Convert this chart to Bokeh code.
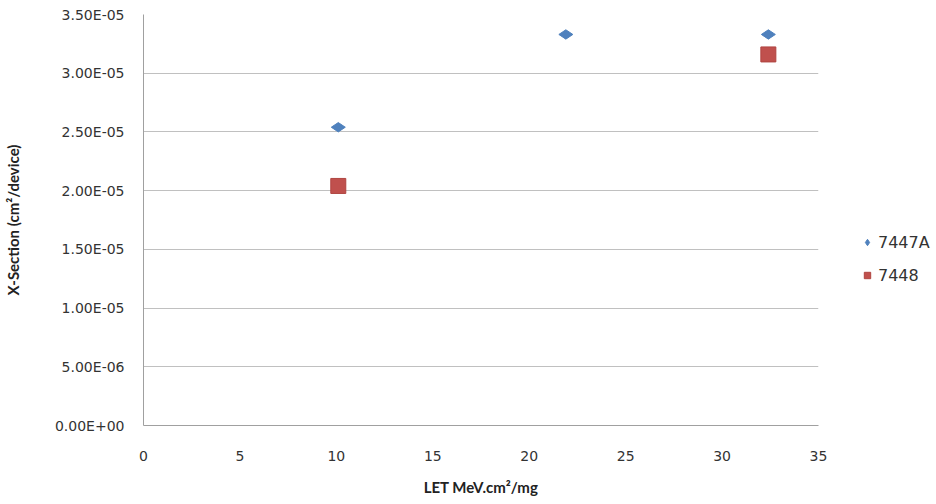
from bokeh.plotting import figure
from bokeh.models import Range1d, CustomJSTickFormatter, FixedTicker, Legend, LegendItem, ColumnDataSource
from bokeh.embed import file_html
from bokeh.resources import INLINE
import numpy as np

# Data
let_a = [10.1, 21.9, 32.4]
xs_a = [2.54e-05, 3.33e-05, 3.33e-05]
let_b = [10.1, 32.4]
xs_b = [2.04e-05, 3.16e-05]
name_a = "7447A"
name_b = "7448"
x_ticks = [0, 5, 10, 15, 20, 25, 30, 35]
y_ticks = [0, 5e-06, 1e-05, 1.5e-05, 2e-05, 2.5e-05, 3e-05, 3.5e-05]

p = figure(frame_width=675, frame_height=411, output_backend="svg", toolbar_location=None,
           x_range=Range1d(0, 35), y_range=Range1d(0, 3.5e-05),
           min_border_left=141, min_border_right=96, min_border_top=14, min_border_bottom=55)
p.outline_line_color = None
p.background_fill_color = "white"

p.xgrid.grid_line_color = None
p.ygrid.grid_line_color = "#c0c0c0"
p.ygrid.grid_line_width = 1

p.xaxis.ticker = FixedTicker(ticks=x_ticks)
p.yaxis.ticker = FixedTicker(ticks=y_ticks)
p.yaxis.formatter = CustomJSTickFormatter(code="""
    const s = tick.toExponential(2).toUpperCase();
    const parts = s.split('E');
    let e = parts[1];
    const sign = e[0];
    let d = e.slice(1);
    if (d.length < 2) d = '0' + d;
    return parts[0] + 'E' + sign + d;
""")

for ax in (p.xaxis[0], p.yaxis[0]):
    ax.major_tick_line_color = None
    ax.minor_tick_line_color = None
    ax.axis_line_color = "#a0a0a0"
    ax.major_label_text_font = "DejaVu Sans"
    ax.major_label_text_font_size = "14px"
    ax.major_label_text_color = "#333333"
    ax.axis_label_text_font = "Lato"
    ax.axis_label_text_font_style = "bold"
    ax.axis_label_text_font_size = "15px"
    ax.axis_label_text_color = "#222222"

p.xaxis.axis_label = "LET MeV.cm²/mg"
p.yaxis.axis_label = "X-Section (cm²/device)"
p.xaxis.major_label_standoff = 19
p.yaxis.major_label_standoff = 13
p.xaxis.axis_label_standoff = 14
p.yaxis.axis_label_standoff = 30

src_a = ColumnDataSource(dict(x=let_a, y=xs_a))
src_b = ColumnDataSource(dict(x=let_b, y=xs_b))
ra = p.scatter("x", "y", source=src_a, marker="diamond", size=14, angle=np.pi / 2,
               fill_color="#4F81BD", line_color="#4F81BD")
rb = p.scatter("x", "y", source=src_b, marker="square", size=15,
               fill_color="#C0504D", line_color="#B04440")

legend = Legend(items=[LegendItem(label=name_a, renderers=[ra]),
                       LegendItem(label=name_b, renderers=[rb])],
                location=(41, 140), orientation="vertical",
                label_text_font="DejaVu Sans", label_text_font_size="16px",
                label_text_color="#333333",
                glyph_width=16, glyph_height=20, label_height=20, spacing=13,
                label_standoff=3, padding=0, margin=0,
                border_line_color=None, background_fill_alpha=0)
p.add_layout(legend, "right")

open("out.html", "w").write(file_html(p, INLINE))
